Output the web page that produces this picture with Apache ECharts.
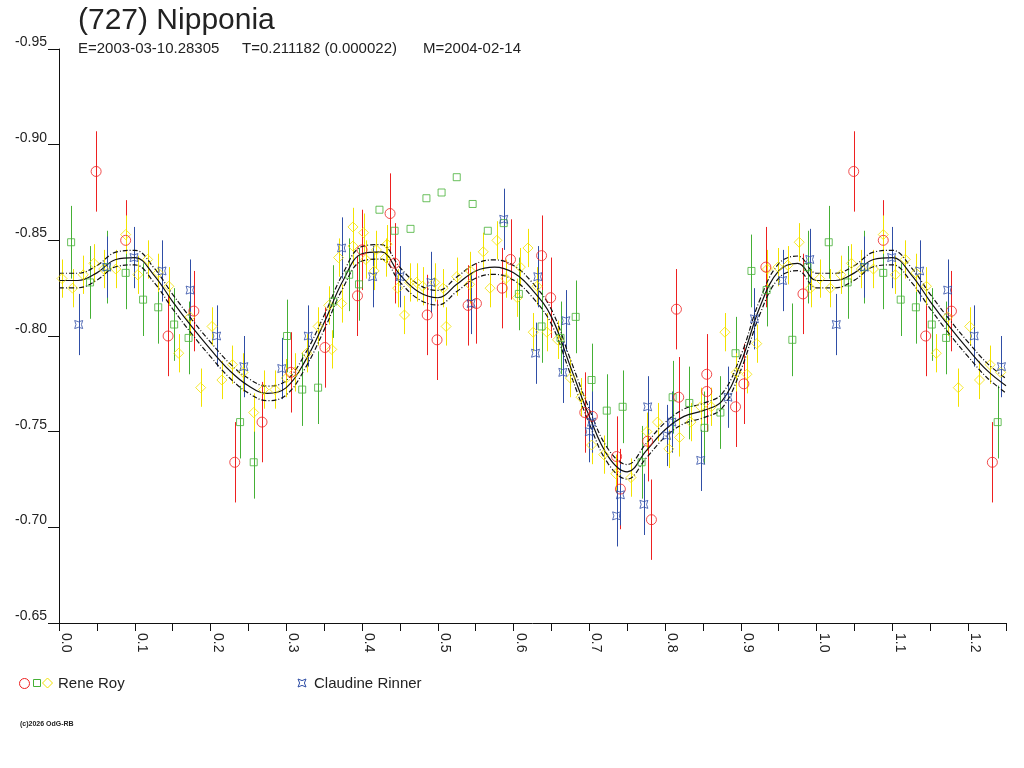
<!DOCTYPE html>
<html>
<head>
<meta charset="utf-8">
<title>(727) Nipponia</title>
<script src="https://cdn.jsdelivr.net/npm/echarts@6.0.0/dist/echarts.min.js"></script>
<style>
	html, body { margin: 0; padding: 0; background: #fff; }
	#lightCurve { width: 1024px; height: 768px; }
</style>
</head>
<body>
<div id="lightCurve"></div>
<script>
// phased observations: [phase, magnitude, error]
var reneRed = [
	[0.049, -0.886, 0.021], [0.088, -0.850, 0.021], [0.144, -0.800, 0.021], [0.178, -0.813, 0.021],
	[0.232, -0.734, 0.021], [0.268, -0.755, 0.021], [0.306, -0.781, 0.021], [0.351, -0.794, 0.021],
	[0.394, -0.821, 0.021], [0.400, -0.845, 0.021], [0.437, -0.864, 0.021], [0.443, -0.838, 0.021],
	[0.486, -0.811, 0.021], [0.499, -0.798, 0.021], [0.540, -0.816, 0.021], [0.551, -0.817, 0.021],
	[0.585, -0.825, 0.021], [0.596, -0.840, 0.021], [0.637, -0.842, 0.021], [0.649, -0.820, 0.021],
	[0.694, -0.760, 0.021], [0.704, -0.758, 0.021], [0.736, -0.737, 0.021], [0.741, -0.720, 0.021],
	[0.777, -0.745, 0.021], [0.782, -0.704, 0.021], [0.815, -0.814, 0.021], [0.818, -0.768, 0.021],
	[0.855, -0.780, 0.021], [0.855, -0.771, 0.021], [0.893, -0.763, 0.021], [0.904, -0.775, 0.021],
	[0.933, -0.836, 0.021], [0.982, -0.822, 0.021]
];

var reneGreen = [
	[0.016, -0.849, 0.019], [0.041, -0.828, 0.019], [0.063, -0.836, 0.019], [0.088, -0.833, 0.019],
	[0.111, -0.819, 0.019], [0.131, -0.815, 0.019], [0.152, -0.806, 0.019], [0.171, -0.799, 0.019],
	[0.239, -0.755, 0.019], [0.257, -0.734, 0.019], [0.301, -0.800, 0.019], [0.321, -0.772, 0.019],
	[0.342, -0.773, 0.019], [0.362, -0.818, 0.019], [0.383, -0.832, 0.019], [0.396, -0.827, 0.019],
	[0.423, -0.866, 0], [0.443, -0.855, 0], [0.464, -0.856, 0], [0.485, -0.872, 0],
	[0.505, -0.875, 0], [0.525, -0.883, 0], [0.546, -0.869, 0], [0.566, -0.855, 0], [0.587, -0.859, 0],
	[0.607, -0.822, 0.019], [0.637, -0.805, 0.019], [0.662, -0.799, 0.019], [0.682, -0.810, 0.019],
	[0.703, -0.777, 0.019], [0.723, -0.761, 0.019], [0.744, -0.763, 0.019], [0.769, -0.734, 0.019],
	[0.810, -0.768, 0.019], [0.832, -0.765, 0.019], [0.852, -0.752, 0.019], [0.873, -0.760, 0.019],
	[0.893, -0.791, 0.019], [0.914, -0.834, 0.019], [0.934, -0.824, 0.019], [0.968, -0.798, 0.019],
	[0.988, -0.836, 0.019]
];

var reneYellow = [
	[0.004, -0.830, 0.010], [0.018, -0.825, 0.010], [0.032, -0.832, 0.010], [0.046, -0.838, 0.010],
	[0.059, -0.835, 0.010], [0.075, -0.835, 0.010], [0.088, -0.853, 0.010], [0.104, -0.832, 0.010],
	[0.117, -0.840, 0.010], [0.131, -0.833, 0.010], [0.145, -0.826, 0.010], [0.158, -0.791, 0.010],
	[0.173, -0.810, 0.010], [0.187, -0.773, 0.010], [0.202, -0.805, 0.010], [0.215, -0.777, 0.010],
	[0.229, -0.785, 0.010], [0.243, -0.781, 0.010], [0.257, -0.760, 0.010], [0.270, -0.772, 0.010],
	[0.285, -0.772, 0.010], [0.300, -0.778, 0.010], [0.311, -0.781, 0.010], [0.327, -0.791, 0.010],
	[0.342, -0.805, 0.010], [0.356, -0.816, 0.010], [0.360, -0.793, 0.010], [0.369, -0.841, 0.010],
	[0.373, -0.817, 0.010], [0.388, -0.857, 0.010], [0.388, -0.847, 0.010], [0.402, -0.854, 0.010],
	[0.405, -0.840, 0.010], [0.416, -0.834, 0.010], [0.419, -0.845, 0.010], [0.431, -0.841, 0.010],
	[0.433, -0.848, 0.010], [0.447, -0.825, 0.010], [0.456, -0.811, 0.010], [0.463, -0.828, 0.010],
	[0.472, -0.828, 0.010], [0.480, -0.826, 0.010], [0.496, -0.828, 0.010], [0.507, -0.825, 0.010],
	[0.511, -0.805, 0.010], [0.525, -0.831, 0.010], [0.542, -0.827, 0.010], [0.543, -0.834, 0.010],
	[0.560, -0.844, 0.010], [0.569, -0.825, 0.010], [0.578, -0.850, 0.010], [0.590, -0.830, 0.010],
	[0.605, -0.820, 0.010], [0.609, -0.836, 0.010], [0.619, -0.846, 0.010], [0.626, -0.802, 0.010],
	[0.631, -0.826, 0.010], [0.644, -0.802, 0.010], [0.658, -0.798, 0.010], [0.675, -0.778, 0.010],
	[0.689, -0.768, 0.010], [0.703, -0.743, 0.010], [0.719, -0.738, 0.010], [0.735, -0.728, 0.010],
	[0.755, -0.726, 0.010], [0.776, -0.750, 0.010], [0.790, -0.755, 0.010], [0.805, -0.741, 0.010],
	[0.819, -0.747, 0.010], [0.834, -0.755, 0.010], [0.847, -0.763, 0.010], [0.861, -0.763, 0.010],
	[0.879, -0.802, 0.010], [0.894, -0.781, 0.010], [0.908, -0.780, 0.010], [0.921, -0.796, 0.010],
	[0.935, -0.835, 0.010], [0.949, -0.836, 0.010], [0.962, -0.837, 0.010], [0.977, -0.849, 0.010],
	[0.992, -0.825, 0.010]
];

var rinnerBlue = [
	[0.026, -0.806, 0.016], [0.063, -0.836, 0.016], [0.099, -0.841, 0.016], [0.136, -0.834, 0.016],
	[0.173, -0.824, 0.016], [0.208, -0.800, 0.016], [0.244, -0.784, 0.016], [0.294, -0.783, 0.016],
	[0.329, -0.800, 0.016], [0.373, -0.846, 0.016], [0.414, -0.831, 0.016], [0.450, -0.831, 0.016],
	[0.491, -0.828, 0.016], [0.544, -0.817, 0.016], [0.587, -0.861, 0.016], [0.629, -0.791, 0.016],
	[0.632, -0.831, 0.016], [0.665, -0.781, 0.016], [0.669, -0.808, 0.016], [0.700, -0.750, 0.016],
	[0.703, -0.755, 0.016], [0.736, -0.706, 0.016], [0.741, -0.717, 0.016], [0.772, -0.712, 0.016],
	[0.777, -0.763, 0.016], [0.802, -0.748, 0.016], [0.809, -0.755, 0.016], [0.847, -0.735, 0.016],
	[0.883, -0.768, 0.016], [0.918, -0.809, 0.016], [0.955, -0.829, 0.016], [0.991, -0.840, 0.016]
];

// fitted curve, phase 0..1 in steps of 0.025
var fitPhase = [
	0.000, 0.025, 0.050, 0.075, 0.100, 0.125, 0.150, 0.175, 0.200, 0.225,
	0.250, 0.275, 0.300, 0.325, 0.350, 0.375, 0.400, 0.425, 0.450, 0.475,
	0.500, 0.525, 0.550, 0.575, 0.600, 0.625, 0.650, 0.675, 0.700, 0.725,
	0.750, 0.775, 0.800, 0.825, 0.850, 0.875, 0.900, 0.925, 0.950, 0.975, 1.000
];
var fitMag = [
	-0.829, -0.829, -0.833, -0.840, -0.841, -0.832, -0.818, -0.805, -0.793, -0.782,
	-0.774, -0.770, -0.773, -0.787, -0.807, -0.829, -0.843, -0.844, -0.832, -0.823,
	-0.820, -0.827, -0.834, -0.836, -0.833, -0.824, -0.810, -0.784, -0.758, -0.737,
	-0.729, -0.740, -0.751, -0.758, -0.761, -0.766, -0.786, -0.815, -0.834, -0.838, -0.829
];
var fitSigma = 0.0038;

var yTicks = [-0.95, -0.90, -0.85, -0.80, -0.75, -0.70, -0.65];

var RED = '#ee2020', GREEN = '#45b035', YELLOW = '#f2e200', BLUE = '#2f4ea6';
var STAR = 'path://M0,0 Q5,3.2 10,0 Q6.8,5 10,10 Q5,6.8 0,10 Q3.2,5 0,0 Z';
var FONT = '"Liberation Sans", Arial, sans-serif';

// repeat the first quarter of the cycle after phase 1, as in the original plot
function wrap(pts) {
	var out = pts.slice();
	pts.forEach(function (p) {
		if (p[0] < 0.25) out.push([p[0] + 1, p[1], p[2]]);
	});
	return out;
}

function fitLine(offset) {
	var out = [];
	fitPhase.forEach(function (ph, i) { out.push([ph, fitMag[i] + offset]); });
	fitPhase.forEach(function (ph, i) {
		if (ph > 0 && ph <= 0.25) out.push([ph + 1, fitMag[i] + offset]);
	});
	return out;
}

function errorBars(pts, color) {
	return {
		type: 'custom',
		silent: true,
		z: 1,
		clip: true,
		data: pts.filter(function (p) { return p[2] > 0; }),
		renderItem: function (params, api) {
			var x = api.value(0), y = api.value(1), e = api.value(2);
			var a = api.coord([x, y - e]), b = api.coord([x, y + e]);
			return {
				type: 'line',
				shape: { x1: Math.round(a[0]) + 0.5, y1: a[1], x2: Math.round(b[0]) + 0.5, y2: b[1] },
				style: { stroke: color, lineWidth: 1 }
			};
		}
	};
}

function marks(pts, symbol, size, color) {
	return {
		type: 'scatter',
		z: 4,
		symbol: symbol,
		symbolSize: size,
		data: pts.map(function (p) { return [p[0], p[1]]; }),
		itemStyle: { color: 'rgba(0,0,0,0)', borderColor: color, borderWidth: 1 }
	};
}

var red = wrap(reneRed), green = wrap(reneGreen), yellow = wrap(reneYellow), blue = wrap(rinnerBlue);

var lightCurve = echarts.init(document.getElementById('lightCurve'), null, { renderer: 'canvas' });

var option = {
	animation: false,
	backgroundColor: '#fff',
	grid: { left: 59, right: 18, top: 49, bottom: 145 },
	xAxis: {
		type: 'value',
		min: 0,
		max: 1.25,
		interval: 0.05,
		splitLine: { show: false },
		axisLine: { onZero: false, lineStyle: { color: '#111', width: 1 } },
		axisTick: { length: 8, lineStyle: { color: '#111' } },
		axisLabel: {
			rotate: -90,
			margin: 10,
			verticalAlign: 'bottom',
			color: '#222',
			fontFamily: FONT,
			fontSize: 14,
			formatter: function (v) {
				var k = Math.round(v * 100);
				return k % 10 === 0 ? (k / 100).toFixed(1) : '';
			}
		}
	},
	yAxis: {
		type: 'value',
		inverse: true,
		min: yTicks[0],
		max: yTicks[yTicks.length - 1],
		interval: 0.05,
		splitLine: { show: false },
		axisLine: { onZero: false, lineStyle: { color: '#111', width: 1 } },
		axisTick: { length: 11, lineStyle: { color: '#111' } },
		axisLabel: {
			margin: 12,
			verticalAlign: 'bottom',
			color: '#222',
			fontFamily: FONT,
			fontSize: 14,
			formatter: function (v) { return v.toFixed(2); }
		}
	},
	graphic: [
		{ type: 'text', left: 78, top: 6, style: { text: '(727) Nipponia', font: '30px ' + FONT, fill: '#222' } },
		{ type: 'text', left: 78, top: 41, style: { text: 'E=2003-03-10.28305', font: '15px ' + FONT, fill: '#222' } },
		{ type: 'text', left: 242, top: 41, style: { text: 'T=0.211182 (0.000022)', font: '15px ' + FONT, fill: '#222' } },
		{ type: 'text', left: 423, top: 41, style: { text: 'M=2004-02-14', font: '15px ' + FONT, fill: '#222' } },

		{ type: 'circle', shape: { cx: 24.5, cy: 683.5, r: 5 }, style: { fill: 'none', stroke: RED, lineWidth: 1 } },
		{ type: 'rect', shape: { x: 33.5, y: 679.5, width: 7, height: 7 }, style: { fill: 'none', stroke: GREEN, lineWidth: 1 } },
		{ type: 'polygon', shape: { points: [[47.5, 678], [52.5, 683], [47.5, 688], [42.5, 683]] }, style: { fill: 'none', stroke: YELLOW, lineWidth: 1 } },
		{ type: 'text', left: 58, top: 676, style: { text: 'Rene Roy', font: '15px ' + FONT, fill: '#222' } },

		{ type: 'polygon', shape: { points: [[298, 679], [302, 680.6], [306, 679], [304.4, 683], [306, 687], [302, 685.4], [298, 687], [299.6, 683]] }, style: { fill: 'none', stroke: BLUE, lineWidth: 1 } },
		{ type: 'text', left: 314, top: 676, style: { text: 'Claudine Rinner', font: '15px ' + FONT, fill: '#222' } },

		{ type: 'text', left: 20, top: 721, style: { text: '(c)2026 OdG-RB', font: 'bold 7px ' + FONT, fill: '#222' } }
	],
	series: [
		errorBars(red, RED),
		errorBars(green, GREEN),
		errorBars(yellow, YELLOW),
		errorBars(blue, BLUE),
		{
			type: 'line', z: 3, smooth: 0.4, showSymbol: false, silent: true,
			data: fitLine(0),
			lineStyle: { color: '#111', width: 1.2 }
		},
		{
			type: 'line', z: 3, smooth: 0.4, showSymbol: false, silent: true,
			data: fitLine(-fitSigma),
			lineStyle: { color: '#111', width: 1.2, type: [5, 2, 1, 2] }
		},
		{
			type: 'line', z: 3, smooth: 0.4, showSymbol: false, silent: true,
			data: fitLine(fitSigma),
			lineStyle: { color: '#111', width: 1.2, type: [5, 2, 1, 2] }
		},
		marks(yellow, 'diamond', 10, YELLOW),
		marks(green, 'rect', 7, GREEN),
		marks(red, 'circle', 10, RED),
		marks(blue, STAR, 8, BLUE)
	]
};
lightCurve.setOption(option);
</script>
</body>
</html>
